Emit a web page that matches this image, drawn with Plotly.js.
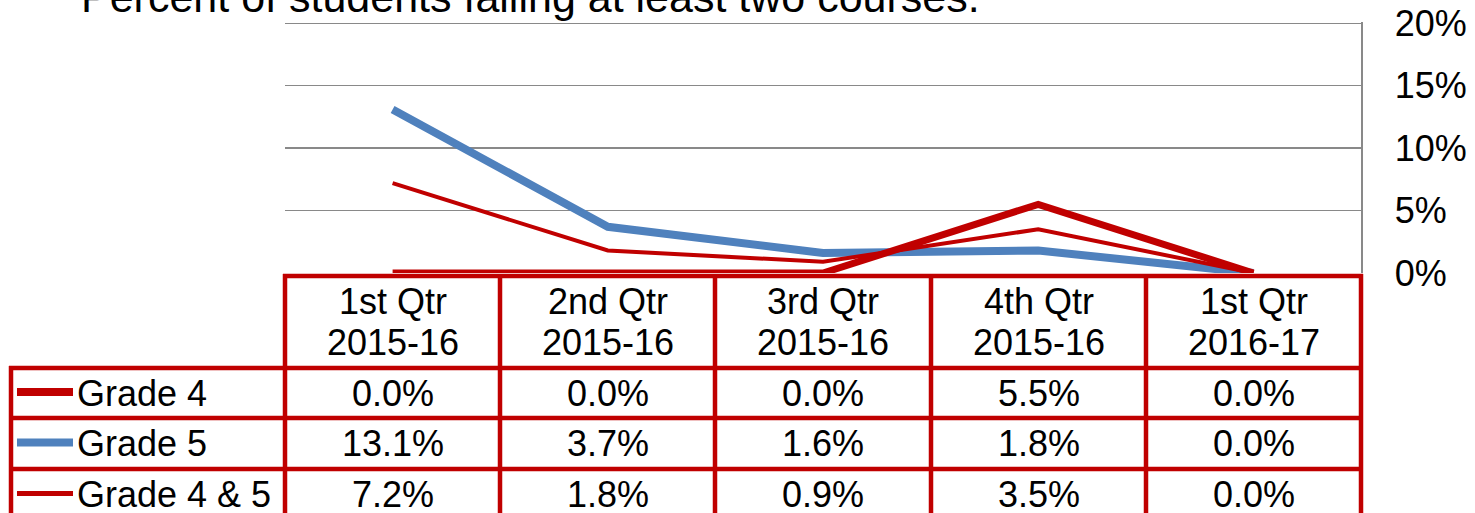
<!DOCTYPE html>
<html>
<head>
<meta charset="utf-8">
<script src="https://cdn.plot.ly/plotly-3.0.1.min.js"></script>
<style>
  html, body { margin: 0; padding: 0; background: #ffffff; }
  #chart { width: 1475px; height: 513px; }
</style>
</head>
<body>
<div id="chart"></div>
<script>
// ---------- data ----------
const titleText = "Percent of students failing at least two courses.";
const quarterLabels = ["1st Qtr", "2nd Qtr", "3rd Qtr", "4th Qtr", "1st Qtr"];
const yearLabels = ["2015-16", "2015-16", "2015-16", "2015-16", "2016-17"];
const categories = quarterLabels.map((q, i) => q + " " + yearLabels[i]);
const seriesNames = ["Grade 4", "Grade 5", "Grade 4 & 5"];
const grade4 = [0.000, 0.000, 0.000, 0.055, 0.000];
const grade5 = [0.131, 0.037, 0.016, 0.018, 0.000];
const grade45 = [0.072, 0.018, 0.009, 0.035, 0.000];
const yTickVals = [0, 0.05, 0.10, 0.15, 0.20];

// ---------- layout geometry (pixels) ----------
const FIG_W = 1475, FIG_H = 513;
const L = 285, R = 1361, T = 22, B = 273;
const PW = R - L, PH = B - T;
const px = v => (v - L) / PW;     // pixel x -> paper x
const py = v => (B - v) / PH;     // pixel y -> paper y

const RED = "#C00000", BLUE = "#4F81BD", GRID = "#898989";
const FONT = "Arial, 'Liberation Sans', sans-serif";

const seriesValues = [grade4, grade5, grade45];
const seriesColors = [RED, BLUE, RED];
const seriesWidths = [7, 8, 4];
const sampleWidths = [8, 8, 5];

// draw blue first, reds on top
const drawOrder = [1, 0, 2];
const traces = drawOrder.map(i => ({
  type: "scatter",
  mode: "lines",
  name: seriesNames[i],
  x: categories,
  y: seriesValues[i],
  line: { color: seriesColors[i], width: seriesWidths[i] },
  hoverinfo: "skip",
  showlegend: false
}));

// ---------- table ----------
const colEdges = [285, 500, 715, 931, 1146, 1361];
const headerTop = 276, headerBottom = 368;
const rowEdges = [368, 418, 469, 520];
const legendLeft = 11;
const shapes = [];
const lineStyle = { color: RED, width: 4.5 };
function hline(y, x0, x1) {
  shapes.push({ type: "line", xref: "paper", yref: "paper",
    x0: px(x0), x1: px(x1), y0: py(y), y1: py(y), line: lineStyle, layer: "above" });
}
function vline(x, y0, y1) {
  shapes.push({ type: "line", xref: "paper", yref: "paper",
    x0: px(x), x1: px(x), y0: py(y0), y1: py(y1), line: lineStyle, layer: "above" });
}
hline(headerTop, L - 2, R + 2);
rowEdges.slice(0, 3).forEach(y => hline(y, legendLeft - 2, R + 2));
colEdges.forEach(x => vline(x, headerTop - 2, 530));
vline(legendLeft, headerBottom - 2, 530);

const annotations = [];
const fmt = v => (v * 100).toFixed(1) + "%";
const cellFont = { family: FONT, size: 36, color: "#000000" };

// header cells
categories.forEach((c, i) => {
  const cx = (colEdges[i] + colEdges[i + 1]) / 2;
  annotations.push({ xref: "paper", yref: "paper", x: px(cx), y: py(301),
    text: quarterLabels[i], showarrow: false, xanchor: "center", yanchor: "middle", font: cellFont });
  annotations.push({ xref: "paper", yref: "paper", x: px(cx), y: py(342),
    text: yearLabels[i], showarrow: false, xanchor: "center", yanchor: "middle", font: cellFont });
});

// data rows
seriesNames.forEach((name, r) => {
  const cy = (rowEdges[r] + rowEdges[r + 1]) / 2;
  // legend sample
  shapes.push({ type: "line", xref: "paper", yref: "paper",
    x0: px(17), x1: px(73), y0: py(cy - 1), y1: py(cy - 1),
    line: { color: seriesColors[r], width: sampleWidths[r] }, layer: "above" });
  annotations.push({ xref: "paper", yref: "paper", x: px(75), y: py(cy),
    text: name, showarrow: false, xanchor: "left", yanchor: "middle", font: cellFont });
  seriesValues[r].forEach((v, i) => {
    const cx = (colEdges[i] + colEdges[i + 1]) / 2;
    annotations.push({ xref: "paper", yref: "paper", x: px(cx), y: py(cy),
      text: fmt(v), showarrow: false, xanchor: "center", yanchor: "middle", font: cellFont });
  });
});

// title (cut off at top as in the original)
annotations.push({ xref: "paper", yref: "paper", x: px(79), y: py(-3),
  text: titleText, showarrow: false, xanchor: "left", yanchor: "middle",
  font: { family: FONT, size: 43, color: "#000000" } });

const layout = {
  width: FIG_W, height: FIG_H,
  margin: { l: L, r: FIG_W - R, t: T, b: FIG_H - B, pad: 0 },
  paper_bgcolor: "#ffffff", plot_bgcolor: "#ffffff",
  showlegend: false,
  font: { family: FONT, size: 36, color: "#000000" },
  xaxis: {
    type: "category", range: [-0.5, 4.5], fixedrange: true,
    showgrid: false, zeroline: false, showline: false,
    showticklabels: false, ticks: ""
  },
  yaxis: {
    side: "right", range: [0, 0.201], fixedrange: true,
    tickvals: yTickVals, tickformat: ".0%",
    showgrid: true, gridcolor: GRID, gridwidth: 1.5,
    zeroline: false, showline: true, linecolor: GRID, linewidth: 1.5,
    ticks: "", ticklabelstandoff: 25,
    tickfont: { family: FONT, size: 36, color: "#000000" }
  },
  shapes: shapes,
  annotations: annotations
};

Plotly.newPlot("chart", traces, layout, { staticPlot: true, displayModeBar: false });
</script>
</body>
</html>
